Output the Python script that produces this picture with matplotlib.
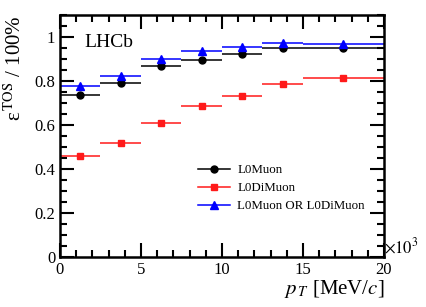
import matplotlib
matplotlib.use("Agg")
import matplotlib.pyplot as plt
import numpy as np
from matplotlib.lines import Line2D
from matplotlib.ticker import MultipleLocator

# bins in pT [10^3 MeV/c]
bin_edges = [0, 2.5, 5, 7.5, 10, 12.5, 15, 20]
eff_l0muon = [0.735, 0.790, 0.869, 0.897, 0.923, 0.950, 0.951]
eff_l0dimuon = [0.460, 0.518, 0.608, 0.686, 0.732, 0.786, 0.814]
eff_or = [0.777, 0.821, 0.901, 0.935, 0.953, 0.971, 0.970]
labels = ["L0Muon", "L0DiMuon", "L0Muon OR L0DiMuon"]

plt.rcParams['font.family'] = ['Liberation Serif', 'DejaVu Serif']
plt.rcParams['mathtext.fontset'] = 'stix'

edges = np.array(bin_edges)
centers = 0.5 * (edges[1:] + edges[:-1])
halfw = 0.5 * (edges[1:] - edges[:-1])

fig = plt.figure(figsize=(4.27, 3.07), dpi=100)
ax = fig.add_axes([60 / 427, 1 - 257 / 307, 324 / 427, 242 / 307])

series = [(eff_l0muon, 'black', 'o', 5),
          (eff_l0dimuon, '#ff1a1a', 's', 5),
          (eff_or, '#0000ff', '^', 5.5)]
handles = []
for (vals, col, mk, ms), lab in zip(series, labels):
    ax.errorbar(centers, vals, xerr=halfw, fmt=mk, color=col,
                ms=ms, elinewidth=1.1, capsize=0)
    handles.append(Line2D([], [], color=col, marker=mk, ms=ms, lw=1.1))

ax.set_xlim(0, 20)
ax.set_ylim(0, 1.1)
ax.xaxis.set_major_locator(MultipleLocator(5))
ax.xaxis.set_minor_locator(MultipleLocator(1))
ax.yaxis.set_minor_locator(MultipleLocator(0.05))
ax.set_yticks([0, 0.2, 0.4, 0.6, 0.8, 1.0])
ax.set_yticklabels(["0", "0.2", "0.4", "0.6", "0.8", "1"])
ax.tick_params(which='both', direction='in', top=True, right=True, width=1.5,
               labelsize=12)
ax.tick_params(which='major', length=10)
ax.tick_params(which='minor', length=5)
for s in ax.spines.values():
    s.set_linewidth(1.8)

ax.set_xlabel(r"$p_{\,T}$ [MeV/$c$]", fontsize=15, loc='right', labelpad=0)
ax.set_ylabel(r"ε$^{\,\mathrm{TOS}}$ / 100%", fontsize=15, loc='top', labelpad=6)
ax.text(1.0, 0.0, r"$\times10^3$", transform=ax.transAxes, fontsize=12,
        ha='left', va='bottom')
ax.text(0.075, 0.866, "LHCb", transform=ax.transAxes, fontsize=14)

ax.legend(handles, labels, loc='upper left', bbox_to_anchor=(0.426, 0.383),
          frameon=False, fontsize=9.3, handlelength=2.5, handletextpad=0.55,
          labelspacing=0.45, borderpad=0, borderaxespad=0)

fig.savefig("out.png", dpi=100)
